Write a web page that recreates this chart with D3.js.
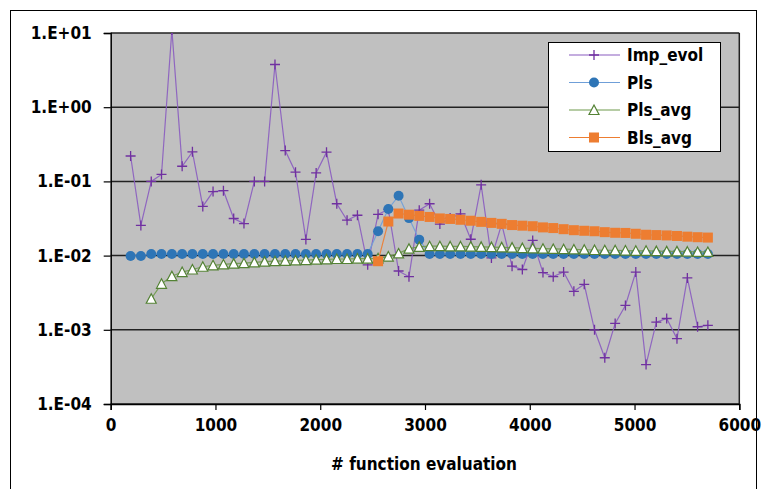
<!DOCTYPE html>
<html>
<head>
<meta charset="utf-8">
<script src="https://cdn.jsdelivr.net/npm/d3@7"></script>
<style>
  body { margin: 0; background: #fff; }
  svg { display: block; }
  text { font-family: "Liberation Sans Narrow", "DejaVu Sans Condensed", sans-serif; font-weight: bold; fill: #000; }
</style>
</head>
<body>
<svg width="769" height="489"></svg>
<script>
// x positions (function evaluations)
const evals = [190, 288, 387, 485, 584, 682, 780, 879, 977, 1076, 1174, 1272, 1371, 1469, 1568, 1666,
  1764, 1863, 1961, 2060, 2158, 2256, 2355, 2453, 2552, 2650, 2748, 2847, 2945, 3044, 3142, 3240,
  3339, 3437, 3536, 3634, 3732, 3831, 3929, 4028, 4126, 4224, 4323, 4421, 4520, 4618, 4716, 4815,
  4913, 5012, 5110, 5208, 5307, 5405, 5504, 5602, 5700];

const impEvol = [0.22, 0.0255, 0.1, 0.124, 11, 0.16, 0.25, 0.046, 0.073, 0.075, 0.0316, 0.027, 0.1, 0.1,
  3.76, 0.26, 0.133, 0.0165, 0.13, 0.248, 0.05, 0.03, 0.035, 0.0075, 0.036, 0.042, 0.0062, 0.0052,
  0.041, 0.05, 0.0266, 0.032, 0.0365, 0.0166, 0.09, 0.0093, 0.0266, 0.0072, 0.0065, 0.016, 0.0059,
  0.0052, 0.006, 0.0033, 0.0041, 0.001, 0.00042, 0.00122, 0.00213, 0.006, 0.00034, 0.00127, 0.00142,
  0.00076, 0.005, 0.0011, 0.00115];

const pls = [0.0099, 0.0099, 0.0105, 0.0105, 0.0105, 0.0105, 0.0105, 0.0105, 0.0105, 0.0105, 0.0105,
  0.0105, 0.0105, 0.0105, 0.0105, 0.0105, 0.0105, 0.0105, 0.0105, 0.0105, 0.0105, 0.0105, 0.0105,
  0.0105, 0.0213, 0.0425, 0.064, 0.032, 0.0164, 0.0105, 0.0105, 0.0105, 0.0105, 0.0105, 0.0105,
  0.0105, 0.0105, 0.0105, 0.0105, 0.0105, 0.0105, 0.0105, 0.0105, 0.0105, 0.0105, 0.0105, 0.0105,
  0.0105, 0.0105, 0.0105, 0.0105, 0.0105, 0.0105, 0.0105, 0.0105, 0.0105, 0.0105];

const plsAvg = [null, null, 0.00262, 0.00417, 0.00528, 0.006, 0.0065, 0.00707, 0.0074, 0.0076, 0.0078,
  0.0079, 0.0081, 0.0083, 0.0084, 0.0085, 0.0086, 0.0087, 0.0088, 0.0089, 0.009, 0.009, 0.0091,
  0.0091, 0.0092, 0.0097, 0.0107, 0.0124, 0.0131, 0.0134, 0.0134, 0.0133, 0.0133, 0.0132, 0.0131,
  0.013, 0.0129, 0.0128, 0.0126, 0.0125, 0.0124, 0.0123, 0.0122, 0.0121, 0.012, 0.0119, 0.0118,
  0.0118, 0.0117, 0.0116, 0.0116, 0.0115, 0.0114, 0.0114, 0.0113, 0.0112, 0.0112];

const blsAvg = [null, null, null, null, null, null, null, null, null, null, null, null, null, null,
  null, null, null, null, null, null, null, null, null, null, 0.0084, 0.0288, 0.0369, 0.0356, 0.0343,
  0.0332, 0.0317, 0.0312, 0.0304, 0.0295, 0.0285, 0.0276, 0.0268, 0.0258, 0.0253, 0.0249, 0.024,
  0.0235, 0.0227, 0.022, 0.0216, 0.0213, 0.0207, 0.0203, 0.0202, 0.0197, 0.0191, 0.0189, 0.0187,
  0.0184, 0.018, 0.0177, 0.0175];

const xTicks = [0, 1000, 2000, 3000, 4000, 5000, 6000];
const yTicks = [1e1, 1e0, 1e-1, 1e-2, 1e-3, 1e-4];
const yTickLabels = ['1.E+01', '1.E+00', '1.E-01', '1.E-02', '1.E-03', '1.E-04'];

const series = [
  { name: 'Imp_evol', values: impEvol, line: '#8a5cc0', mark: 'plus', color: '#7030a0' },
  { name: 'Pls', values: pls, line: '#6f9fd8', mark: 'circle', color: '#2e75b6' },
  { name: 'Pls_avg', values: plsAvg, line: '#6f9a4c', mark: 'triangle', color: '#548235' },
  { name: 'Bls_avg', values: blsAvg, line: '#ed7d31', mark: 'square', color: '#ed7d31' }
];

const svg = d3.select('svg');
const x = d3.scaleLinear().domain([0, 6000]).range([110.7, 739.3]);
const y = d3.scaleLog().domain([1e-4, 1e1]).range([404, 33]);

// chart border
svg.append('rect')
  .attr('x', 10.5).attr('y', 10.5)
  .attr('width', 746).attr('height', 490)
  .attr('fill', 'none').attr('stroke', '#000').attr('stroke-width', 1);

// plot area
svg.append('rect')
  .attr('x', x(0)).attr('y', y(1e1))
  .attr('width', x(6000) - x(0)).attr('height', y(1e-4) - y(1e1))
  .attr('fill', '#c0c0c0');

svg.append('clipPath').attr('id', 'plot-clip')
  .append('rect')
  .attr('x', x(0)).attr('y', y(1e1))
  .attr('width', x(6000) - x(0)).attr('height', y(1e-4) - y(1e1));

// gridlines
svg.append('g')
  .selectAll('line')
  .data(yTicks)
  .enter()
  .append('line')
  .attr('x1', x(0)).attr('x2', x(6000))
  .attr('y1', d => y(d)).attr('y2', d => y(d))
  .attr('stroke', '#222').attr('stroke-width', 1.5);

svg.append('line')
  .attr('x1', x(6000)).attr('x2', x(6000))
  .attr('y1', y(1e1)).attr('y2', y(1e-4))
  .attr('stroke', '#222').attr('stroke-width', 1.5);

// axes
const yAxis = svg.append('g')
  .attr('transform', `translate(${x(0)},0)`)
  .call(d3.axisLeft(y).tickValues(yTicks).tickFormat((d, i) => yTickLabels[i]).tickSize(7).tickPadding(12));
const xAxis = svg.append('g')
  .attr('transform', `translate(0,${y(1e-4)})`)
  .call(d3.axisBottom(x).tickValues(xTicks).tickFormat(d3.format('d')).tickSize(6).tickPadding(9));

[yAxis, xAxis].forEach(a => {
  a.select('.domain').attr('stroke', '#000').attr('stroke-width', 1.5);
  a.selectAll('.tick line').attr('stroke', '#000').attr('stroke-width', 1.2);
  a.selectAll('.tick text').attr('font-size', 17).attr('fill', '#000')
    .style('font-family', '"Liberation Sans Narrow", "DejaVu Sans Condensed", sans-serif')
    .style('font-weight', 'bold');
});

svg.append('text')
  .attr('x', 424).attr('y', 470)
  .attr('text-anchor', 'middle')
  .attr('font-size', 17)
  .text('# function evaluation');

// markers
const drawMarker = (g, type, color) => {
  if (type === 'plus') {
    g.append('path').attr('d', 'M-5,0H5M0,-5V5')
      .attr('stroke', color).attr('stroke-width', 1.3).attr('fill', 'none');
  } else if (type === 'circle') {
    g.append('circle').attr('r', 5).attr('fill', color);
  } else if (type === 'triangle') {
    g.append('path').attr('d', 'M0,-5L5,4.5L-5,4.5Z')
      .attr('fill', '#fff').attr('stroke', color).attr('stroke-width', 1.2);
  } else if (type === 'square') {
    g.append('rect').attr('x', -5).attr('y', -5).attr('width', 10).attr('height', 10)
      .attr('fill', color);
  }
};

const plot = svg.append('g').attr('clip-path', 'url(#plot-clip)');

const lineGen = d3.line()
  .defined(d => d.v !== null)
  .x(d => x(d.x))
  .y(d => y(d.v));

series.forEach(s => {
  const pts = evals.map((e, i) => ({ x: e, v: s.values[i] }));
  const g = plot.append('g').attr('class', 'series');
  g.append('path')
    .datum(pts)
    .attr('d', lineGen)
    .attr('fill', 'none')
    .attr('stroke', s.line)
    .attr('stroke-width', 1.2)
    .attr('opacity', 0.9);
  g.selectAll('g.mark')
    .data(pts.filter(d => d.v !== null))
    .enter()
    .append('g')
    .attr('class', 'mark')
    .attr('transform', d => `translate(${x(d.x)},${y(d.v)})`)
    .each(function() { drawMarker(d3.select(this), s.mark, s.color); });
});

// legend
const legend = svg.append('g').attr('transform', 'translate(548,42)');
legend.append('rect')
  .attr('x', 0.5).attr('y', 0.5).attr('width', 172).attr('height', 109)
  .attr('fill', '#fff').attr('stroke', '#000').attr('stroke-width', 1);

const items = legend.selectAll('g.item')
  .data(series)
  .enter()
  .append('g')
  .attr('class', 'item')
  .attr('transform', (d, i) => `translate(0,${13 + i * 27.5})`);

items.append('line')
  .attr('x1', 21).attr('x2', 72)
  .attr('stroke', d => d.line).attr('stroke-width', 1.2);
items.append('g')
  .attr('transform', 'translate(46,0)')
  .each(function(d) { drawMarker(d3.select(this), d.mark, d.color); });
items.append('text')
  .attr('x', 79).attr('y', 6)
  .attr('font-size', 17)
  .text(d => d.name);
</script>
</body>
</html>
